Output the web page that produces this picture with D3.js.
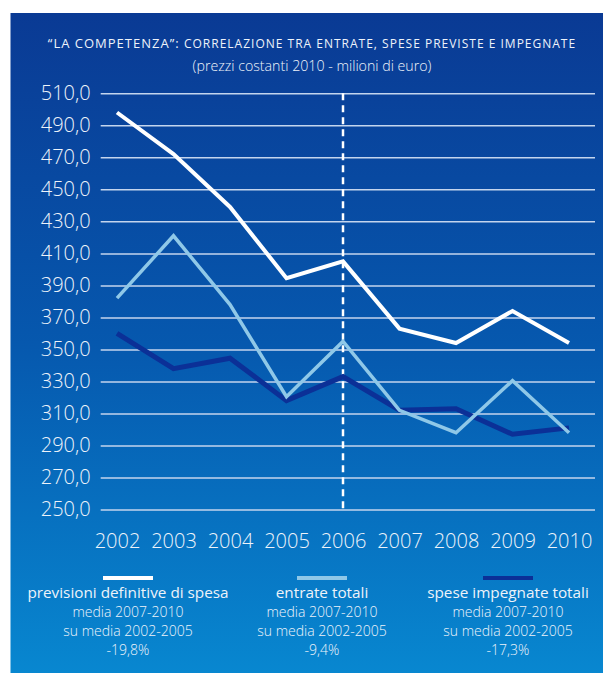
<!DOCTYPE html>
<html>
<head>
<meta charset="utf-8">
<script src="https://cdn.jsdelivr.net/npm/d3@7"></script>
<style>
  body { margin: 0; background: #fff; }
  svg { display: block; font-family: "Open Sans", "Noto Sans", sans-serif; }
</style>
</head>
<body>
<svg class="chart" width="603" height="675"></svg>
<script>
// values (prezzi costanti 2010, milioni di euro)
var years = ["2002", "2003", "2004", "2005", "2006", "2007", "2008", "2009", "2010"];
var previsioni = [498, 472, 439, 394.5, 405, 363, 354, 374, 354];
var entrate = [382, 421, 378, 320.5, 355, 312, 298, 330.5, 298];
var speseImpegnate = [360, 338, 344.5, 318, 333, 312, 313, 297, 301];
var yTicks = [250, 270, 290, 310, 330, 350, 370, 390, 410, 430, 450, 470, 490, 510];
var splitYear = "2006";

var seriesNames = ["previsioni definitive di spesa", "entrate totali", "spese impegnate totali"];
var seriesColors = ["#ffffff", "#8fc8e8", "#0b3097"];
var seriesWidths = [4, 3.5, 5];
var variazioni = ["-19,8%", "-9,4%", "-17,3%"];

var svg = d3.select(".chart"),
    width = +svg.attr("width"),
    height = +svg.attr("height");

var defs = svg.append("defs");
var grad = defs.append("linearGradient")
    .attr("id", "bg")
    .attr("x1", 0).attr("y1", 0).attr("x2", 0).attr("y2", 1);
grad.append("stop").attr("offset", "0%").attr("stop-color", "#0a3a94");
grad.append("stop").attr("offset", "50%").attr("stop-color", "#0658ae");
grad.append("stop").attr("offset", "100%").attr("stop-color", "#0887d0");

svg.append("rect")
    .attr("x", 10.5)
    .attr("y", 13)
    .attr("width", width - 10.5)
    .attr("height", 660)
    .attr("fill", "url(#bg)");

// title
var title = svg.append("text")
    .attr("x", 312)
    .attr("y", 48)
    .attr("text-anchor", "middle")
    .attr("fill", "#eef3fa")
    .attr("letter-spacing", 1);
title.append("tspan")
    .attr("font-size", 13)
    .text("\u201CLA COMPETENZA\u201D: ");
title.append("tspan")
    .attr("font-size", 12)
    .text("CORRELAZIONE TRA ENTRATE, SPESE PREVISTE E IMPEGNATE");

svg.append("text")
    .attr("x", 312)
    .attr("y", 71)
    .attr("text-anchor", "middle")
    .attr("fill", "#eef3fa")
    .attr("font-size", 14.2)
    .attr("font-weight", 300)
    .text("(prezzi costanti 2010 - milioni di euro)");

var x = d3.scalePoint()
    .domain(years)
    .range([117, 569]);

var y = d3.scaleLinear()
    .domain([250, 510])
    .range([509.5, 93.3]);

var gridLeft = 100.7, gridRight = 595;

var yAxis = svg.append("g")
    .attr("transform", "translate(" + gridLeft + ",0)")
    .call(d3.axisLeft(y)
        .tickValues(yTicks)
        .tickSize(-(gridRight - gridLeft))
        .tickPadding(10)
        .tickFormat(function(d) { return d3.format(".1f")(d).replace(".", ","); }));
yAxis.select(".domain").remove();
yAxis.selectAll(".tick line")
    .attr("stroke", "#c4d5ee")
    .attr("stroke-width", 1.5);
yAxis.selectAll(".tick text")
    .attr("fill", "#eef3fa")
    .attr("font-size", 20)
    .attr("font-weight", 300)
    .attr("font-family", "'Open Sans', sans-serif");

var xAxis = svg.append("g")
    .attr("transform", "translate(0,530)")
    .call(d3.axisBottom(x).tickSize(0).tickPadding(4));
xAxis.select(".domain").remove();
xAxis.selectAll(".tick text")
    .attr("fill", "#eef3fa")
    .attr("font-size", 20)
    .attr("font-weight", 300)
    .attr("font-family", "'Open Sans', sans-serif");

// divider 2006
svg.append("line")
    .attr("x1", x(splitYear))
    .attr("x2", x(splitYear))
    .attr("y1", y(510))
    .attr("y2", y(250))
    .attr("stroke", "#ffffff")
    .attr("stroke-width", 2.5)
    .attr("stroke-dasharray", "7,5");

var line = d3.line()
    .x(function(d, i) { return x(years[i]); })
    .y(function(d) { return y(d); });

var allSeries = [speseImpegnate, entrate, previsioni];
var order = [2, 1, 0];
svg.append("g")
  .selectAll("path")
  .data(allSeries)
  .enter().append("path")
    .attr("d", line)
    .attr("fill", "none")
    .attr("stroke", function(d, i) { return seriesColors[order[i]]; })
    .attr("stroke-width", function(d, i) { return seriesWidths[order[i]]; })
    .attr("stroke-linejoin", "miter");

// legend
var legendX = [128, 322, 508];
var legend = svg.append("g")
  .selectAll("g")
  .data(seriesNames)
  .enter().append("g")
    .attr("transform", function(d, i) { return "translate(" + legendX[i] + ",0)"; });

legend.append("line")
    .attr("x1", -25).attr("x2", 25)
    .attr("y1", 578).attr("y2", 578)
    .attr("stroke", function(d, i) { return seriesColors[i]; })
    .attr("stroke-width", 4);

legend.append("text")
    .attr("y", 598)
    .attr("text-anchor", "middle")
    .attr("fill", "#eef3fa")
    .attr("font-size", 15.3)
    .text(function(d) { return d; });

legend.append("text")
    .attr("y", 617)
    .attr("text-anchor", "middle")
    .attr("fill", "#eef3fa")
    .attr("font-size", 14)
    .attr("font-weight", 300)
    .text("media 2007-2010");

legend.append("text")
    .attr("y", 636)
    .attr("text-anchor", "middle")
    .attr("fill", "#eef3fa")
    .attr("font-size", 14)
    .attr("font-weight", 300)
    .text("su media 2002-2005");

legend.append("text")
    .attr("y", 655)
    .attr("text-anchor", "middle")
    .attr("fill", "#eef3fa")
    .attr("font-size", 14)
    .attr("font-weight", 300)
    .text(function(d, i) { return variazioni[i]; });
</script>
</body>
</html>
